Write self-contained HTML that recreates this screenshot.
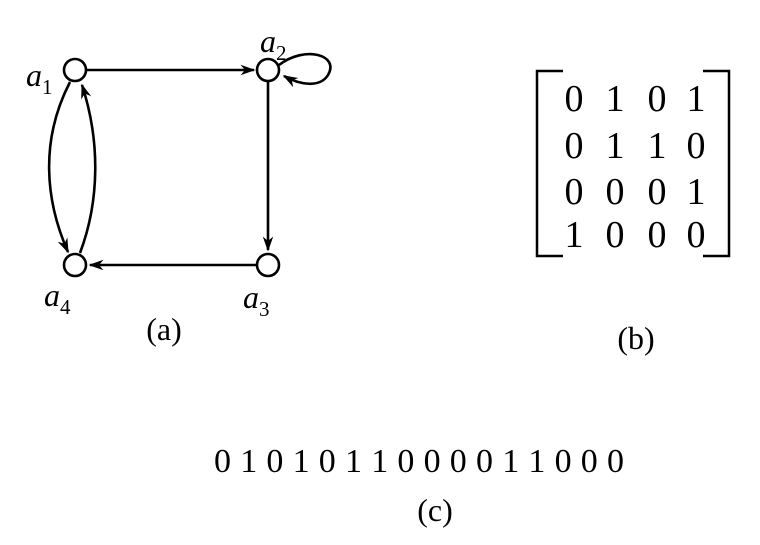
<!DOCTYPE html>
<html><head><style>
html,body{margin:0;padding:0;background:#fff;}
</style></head><body>
<svg width="760" height="540" viewBox="0 0 760 540" xmlns="http://www.w3.org/2000/svg" font-family="'Liberation Serif', serif">
<defs>
<marker id="ar" viewBox="0 0 10 10" refX="9" refY="5" markerWidth="15" markerHeight="15" markerUnits="userSpaceOnUse" orient="auto">
<path d="M0,1.5 L10,5 L0,8.5 L3,5 Z" fill="#000"/>
</marker>
</defs>
<g stroke="#000" stroke-width="2.6" fill="none">
<line x1="87" y1="70" x2="254" y2="70" marker-end="url(#ar)"/>
<line x1="268" y1="82" x2="268" y2="250" marker-end="url(#ar)"/>
<line x1="256" y1="265" x2="90" y2="265" marker-end="url(#ar)"/>
<path d="M70,82 C40,140 45,200 68,252" marker-end="url(#ar)"/>
<path d="M80,253 C100,200 100,140 82,85" marker-end="url(#ar)"/>
<path d="M279,65 C305,45 340,55 328,75 C320,88 300,85 284,76" marker-end="url(#ar)"/>
<circle cx="75" cy="70" r="11" fill="#fff"/>
<circle cx="268" cy="70" r="11" fill="#fff"/>
<circle cx="268" cy="265" r="11" fill="#fff"/>
<circle cx="75" cy="265" r="11" fill="#fff"/>
</g>
<g font-size="32" font-style="italic">
<text x="26" y="86">a<tspan font-size="21" font-style="normal" dy="8">1</tspan></text>
<text x="260" y="52">a<tspan font-size="21" font-style="normal" dy="8">2</tspan></text>
<text x="243" y="308">a<tspan font-size="21" font-style="normal" dy="8">3</tspan></text>
<text x="44" y="306">a<tspan font-size="21" font-style="normal" dy="8">4</tspan></text>
</g>
<text x="164" y="340" font-size="32" text-anchor="middle">(a)</text>
<g stroke="#000" stroke-width="2.5" fill="none">
<polyline points="563,71 537,71 537,256 563,256"/>
<polyline points="703,71 729,71 729,256 703,256"/>
</g>
<g font-size="38" text-anchor="middle">
<text y="111"><tspan x="574">0</tspan><tspan x="615">1</tspan><tspan x="657">0</tspan><tspan x="696">1</tspan></text>
<text y="158"><tspan x="574">0</tspan><tspan x="615">1</tspan><tspan x="657">1</tspan><tspan x="696">0</tspan></text>
<text y="204"><tspan x="574">0</tspan><tspan x="615">0</tspan><tspan x="657">0</tspan><tspan x="696">1</tspan></text>
<text y="247"><tspan x="574">1</tspan><tspan x="615">0</tspan><tspan x="657">0</tspan><tspan x="696">0</tspan></text>
</g>
<text x="636" y="349" font-size="32" text-anchor="middle">(b)</text>
<text x="419" y="472" font-size="34" text-anchor="middle" textLength="410" lengthAdjust="spacing">0 1 0 1 0 1 1 0 0 0 0 1 1 0 0 0</text>
<text x="435" y="521" font-size="32" text-anchor="middle">(c)</text>
</svg>
</body></html>
